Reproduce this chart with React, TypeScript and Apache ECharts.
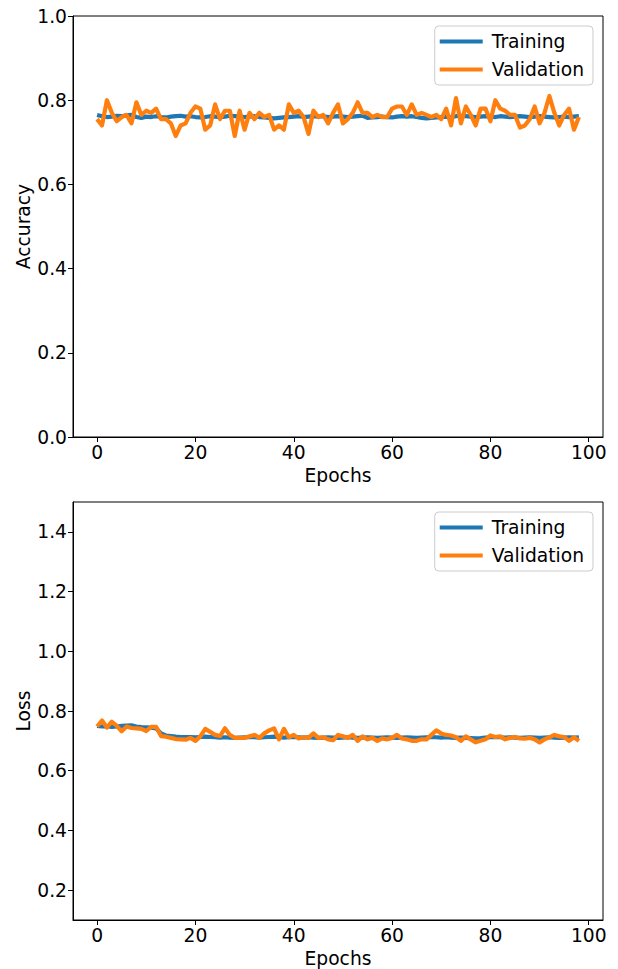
import React, { useEffect, useRef } from "react";
import * as echarts from "echarts";

const epochs: number[] = Array.from({ length: 99 }, (_, i) => i);

const trainAcc: number[] = [
  0.765, 0.762, 0.76, 0.761, 0.763, 0.762, 0.764, 0.765, 0.76, 0.758,
  0.761, 0.76, 0.762, 0.76, 0.759, 0.761, 0.762, 0.763, 0.761, 0.762,
  0.76, 0.759, 0.76, 0.762, 0.761, 0.76, 0.761, 0.763, 0.762, 0.761,
  0.76, 0.761, 0.762, 0.76, 0.759, 0.758, 0.757, 0.758, 0.759, 0.76,
  0.761, 0.762, 0.76, 0.761, 0.762, 0.761, 0.762, 0.76, 0.761, 0.762,
  0.761, 0.76, 0.761, 0.762, 0.763, 0.758, 0.759, 0.76, 0.761, 0.76,
  0.759, 0.761, 0.762, 0.761, 0.762, 0.76, 0.758, 0.757, 0.758, 0.759,
  0.76, 0.761, 0.76, 0.762, 0.763, 0.762, 0.761, 0.76, 0.761, 0.762,
  0.761, 0.76, 0.762, 0.761, 0.76, 0.761, 0.762, 0.761, 0.76, 0.761,
  0.762, 0.761, 0.76, 0.759, 0.76, 0.761, 0.76, 0.761, 0.762,
];

const valAcc: number[] = [
  0.755, 0.74, 0.8, 0.77, 0.75, 0.76, 0.765, 0.745, 0.795, 0.765,
  0.775, 0.77, 0.78, 0.755, 0.755, 0.745, 0.715, 0.74, 0.745, 0.77,
  0.785, 0.78, 0.73, 0.74, 0.79, 0.755, 0.775, 0.775, 0.715, 0.775,
  0.73, 0.77, 0.755, 0.77, 0.76, 0.765, 0.73, 0.74, 0.73, 0.79,
  0.77, 0.775, 0.76, 0.72, 0.775, 0.76, 0.765, 0.745, 0.77, 0.79,
  0.745, 0.755, 0.77, 0.795, 0.77, 0.77, 0.76, 0.765, 0.76, 0.76,
  0.78, 0.785, 0.785, 0.765, 0.79, 0.765, 0.77, 0.765, 0.76, 0.765,
  0.755, 0.78, 0.74, 0.805, 0.745, 0.785, 0.765, 0.74, 0.78, 0.78,
  0.75, 0.8, 0.78, 0.775, 0.765, 0.765, 0.735, 0.74, 0.755, 0.785,
  0.745, 0.77, 0.81, 0.77, 0.74, 0.765, 0.78, 0.73, 0.76,
];

const trainLoss: number[] = [
  0.75, 0.748, 0.749, 0.747, 0.748, 0.75, 0.751, 0.752, 0.748, 0.746,
  0.745, 0.744, 0.742, 0.725, 0.718, 0.716, 0.714, 0.713, 0.713, 0.713,
  0.712, 0.713, 0.714, 0.713, 0.712, 0.711, 0.712, 0.711, 0.71, 0.711,
  0.712, 0.713, 0.712, 0.711, 0.712, 0.713, 0.714, 0.712, 0.711, 0.712,
  0.713, 0.712, 0.711, 0.712, 0.711, 0.71, 0.711, 0.712, 0.711, 0.71,
  0.711, 0.712, 0.711, 0.71, 0.711, 0.712, 0.711, 0.71, 0.711, 0.712,
  0.711, 0.71, 0.711, 0.712, 0.711, 0.71, 0.711, 0.712, 0.713, 0.712,
  0.711, 0.712, 0.711, 0.71, 0.711, 0.71, 0.709, 0.708, 0.709, 0.711,
  0.712, 0.713, 0.712, 0.711, 0.712, 0.711, 0.71, 0.711, 0.712, 0.711,
  0.71, 0.711, 0.712, 0.711, 0.71, 0.711, 0.712, 0.711, 0.712,
];

const valLoss: number[] = [
  0.748, 0.768, 0.745, 0.764, 0.75, 0.732, 0.748, 0.743, 0.742, 0.74,
  0.733, 0.747, 0.747, 0.716, 0.714, 0.71, 0.706, 0.705, 0.704, 0.71,
  0.7, 0.715, 0.74, 0.73, 0.72, 0.716, 0.742, 0.72, 0.71, 0.71,
  0.71, 0.715, 0.72, 0.71, 0.725, 0.735, 0.742, 0.705, 0.74, 0.712,
  0.72, 0.708, 0.712, 0.71, 0.725, 0.71, 0.712, 0.705, 0.702, 0.72,
  0.715, 0.71, 0.72, 0.7, 0.715, 0.705, 0.71, 0.7, 0.708, 0.705,
  0.71, 0.72, 0.708, 0.705, 0.7, 0.7, 0.705, 0.705, 0.72, 0.735,
  0.725, 0.72, 0.718, 0.712, 0.7, 0.715, 0.705, 0.695, 0.7, 0.705,
  0.718, 0.713, 0.715, 0.705, 0.71, 0.713, 0.708, 0.707, 0.71, 0.705,
  0.695, 0.705, 0.712, 0.72, 0.715, 0.713, 0.7, 0.712, 0.7,
];

const xTicks: number[] = [0, 20, 40, 60, 80, 100];
const accTicks: number[] = [0, 0.2, 0.4, 0.6, 0.8, 1.0];
const lossTicks: number[] = [0.2, 0.4, 0.6, 0.8, 1.0, 1.2, 1.4];
const seriesNames: string[] = ["Training", "Validation"];

const BLUE = "#1f77b4";
const ORANGE = "#ff7f0e";
const FONT = "DejaVu Sans";
const FS = 18.7;

export default function App() {
  const ref = useRef<HTMLDivElement>(null);

  useEffect(() => {
    if (!ref.current) return;
    const chart = echarts.init(ref.current, undefined, { renderer: "svg" });

    const pair = (arr: number[]) => arr.map((v, i) => [epochs[i], v]);

    const xAxisBase = (gridIndex: number) => ({
      type: "value" as const,
      gridIndex,
      min: -4.9,
      max: 102.9,
      name: "Epochs",
      nameLocation: "middle" as const,
      nameGap: 29,
      nameMoveOverlap: false,
      nameTextStyle: { fontFamily: FONT, fontSize: FS, color: "#000" },
      axisLine: { show: true, onZero: false, lineStyle: { color: "#000", width: 1 } },
      axisTick: { show: true, length: 5, customValues: xTicks, lineStyle: { color: "#000" } },
      axisLabel: {
        customValues: xTicks,
        fontFamily: FONT,
        fontSize: FS,
        color: "#000",
        margin: 6,
        formatter: (v: number) => String(v),
      },
      splitLine: { show: false },
    });

    const yAxisBase = (gridIndex: number, min: number, max: number, ticks: number[], name: string) => ({
      type: "value" as const,
      gridIndex,
      min,
      max,
      name,
      nameLocation: "middle" as const,
      nameGap: 40,
      nameMoveOverlap: false,
      nameTextStyle: { fontFamily: FONT, fontSize: FS, color: "#000" },
      axisLine: { show: true, onZero: false, lineStyle: { color: "#000", width: 1 } },
      axisTick: { show: true, length: 5, customValues: ticks, lineStyle: { color: "#000" } },
      axisLabel: {
        customValues: ticks,
        fontFamily: FONT,
        fontSize: FS,
        color: "#000",
        margin: 6,
        formatter: (v: number) => v.toFixed(1),
      },
      splitLine: { show: false },
    });

    const legendBase = (top: number) => ({
      orient: "vertical" as const,
      right: 25,
      top,
      data: seriesNames,
      icon: "rect",
      itemWidth: 43,
      itemHeight: 4,
      itemGap: 9,
      padding: [6, 9, 6, 5],
      borderColor: "#cccccc",
      borderWidth: 1,
      borderRadius: 4,
      backgroundColor: "rgba(255,255,255,0.8)",
      selectedMode: false,
      textStyle: { fontFamily: FONT, fontSize: FS, color: "#000", padding: [0, 0, 0, 4] },
    });

    const lineSeries = (name: string, data: number[], color: string, idx: number) => ({
      name,
      type: "line" as const,
      xAxisIndex: idx,
      yAxisIndex: idx,
      data: pair(data),
      showSymbol: false,
      symbol: "none",
      color,
      lineStyle: { color, width: 4.2, join: "round" as const },
    });

    chart.setOption({
      animation: false,
      backgroundColor: "#ffffff",
      textStyle: { fontFamily: FONT },
      grid: [
        { left: 73, top: 16, width: 530, height: 421, show: true, borderColor: "#000", borderWidth: 1, backgroundColor: "transparent" },
        { left: 73, top: 502, width: 530, height: 419, show: true, borderColor: "#000", borderWidth: 1, backgroundColor: "transparent" },
      ],
      xAxis: [xAxisBase(0), xAxisBase(1)],
      yAxis: [
        yAxisBase(0, 0, 1, accTicks, "Accuracy"),
        yAxisBase(1, 0.1, 1.5, lossTicks, "Loss"),
      ],
      legend: [legendBase(26), legendBase(512)],
      series: [
        lineSeries("Training", trainAcc, BLUE, 0),
        lineSeries("Validation", valAcc, ORANGE, 0),
        lineSeries("Training", trainLoss, BLUE, 1),
        lineSeries("Validation", valLoss, ORANGE, 1),
      ],
    });

    return () => chart.dispose();
  }, []);

  return (
    <div
      ref={ref}
      style={{ position: "fixed", left: 0, top: 0, width: 618, height: 969, background: "#fff" }}
    />
  );
}
